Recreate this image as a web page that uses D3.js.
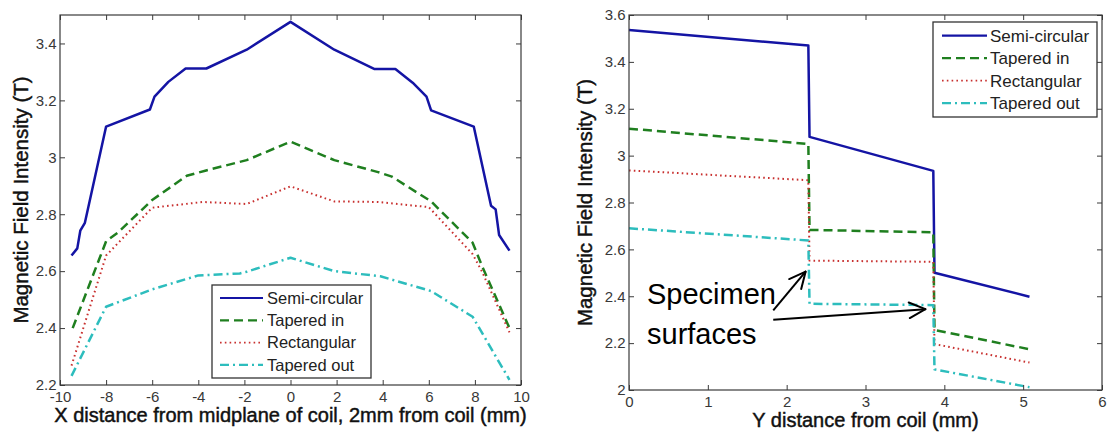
<!DOCTYPE html>
<html>
<head>
<meta charset="utf-8">
<script src="https://cdn.jsdelivr.net/npm/d3@7"></script>
<style>
  html, body { margin: 0; padding: 0; background: #fff; }
  svg { display: block; font-family: "Liberation Sans", Arial, sans-serif; }
</style>
</head>
<body>
<svg id="chart" width="1107" height="436"></svg>
<script>
// ---------------- DATA ----------------
const seriesNames = ["Semi-circular", "Tapered in", "Rectangular", "Tapered out"];

// Left chart: X distance from midplane of coil (mm) vs field (T)
const leftXTicks = [-10, -8, -6, -4, -2, 0, 2, 4, 6, 8, 10];
const leftYTicks = [2.2, 2.4, 2.6, 2.8, 3.0, 3.2, 3.4];
const leftSemiCircular = [[-9.5,2.655],[-9.25,2.68],[-9.12,2.742],[-8.92,2.77],[-8,3.108],[-6.1,3.168],[-5.9,3.213],[-5.3,3.265],[-4.55,3.312],[-3.65,3.312],[-1.9,3.378],[0,3.476],[1.9,3.378],[3.65,3.31],[4.55,3.31],[5.3,3.262],[5.9,3.213],[6.1,3.165],[7.95,3.108],[8.7,2.83],[8.9,2.817],[9.05,2.727],[9.5,2.672]];
const leftTaperedIn = [[-9.45,2.40],[-8,2.705],[-7.5,2.735],[-6,2.85],[-4.5,2.935],[-3.7,2.953],[-1.9,2.99],[0,3.055],[1.9,2.99],[3.8,2.948],[4.4,2.932],[6.1,2.845],[7.9,2.70],[8.3,2.62],[9.5,2.40]];
const leftRectangular = [[-9.5,2.268],[-8,2.655],[-6,2.823],[-3.8,2.843],[-1.9,2.836],[0,2.898],[1.9,2.845],[3.8,2.843],[6,2.825],[7.9,2.66],[8.3,2.6],[9.5,2.385]];
const leftTaperedOut = [[-9.5,2.232],[-8,2.475],[-6,2.536],[-4,2.585],[-2.2,2.592],[-1.9,2.598],[0,2.647],[1.9,2.6],[3.9,2.582],[6.1,2.53],[7.9,2.44],[9.5,2.218]];

// Right chart: Y distance from coil (mm) vs field (T)
const rightXTicks = [0, 1, 2, 3, 4, 5, 6];
const rightYTicks = [2.0, 2.2, 2.4, 2.6, 2.8, 3.0, 3.2, 3.4, 3.6];
const rightSemiCircular = [[0,3.536],[2.275,3.47],[2.29,3.08],[3.86,2.935],[3.875,2.50],[5.08,2.398]];
const rightTaperedIn = [[0,3.115],[2.275,3.05],[2.29,2.683],[3.86,2.673],[3.875,2.256],[5.08,2.174]];
const rightRectangular = [[0,2.937],[2.275,2.895],[2.29,2.552],[3.86,2.547],[3.875,2.196],[5.08,2.117]];
const rightTaperedOut = [[0,2.69],[2.275,2.638],[2.29,2.368],[3.86,2.362],[3.875,2.088],[5.08,2.012]];

const annotationLines = ["Specimen", "surfaces"];

// ---------------- STYLE ----------------
const styles = [
  { color: "#1414a4", width: 2.5, dash: null },
  { color: "#1f7f1f", width: 2.5, dash: "9,5" },
  { color: "#c8302f", width: 2,   dash: "1.6,3.2" },
  { color: "#2dbdbd", width: 2.5, dash: "9,4,2,4" }
];

const svg = d3.select("#chart");
svg.append("rect").attr("width", 1107).attr("height", 436).attr("fill", "#fff");

function drawPlot(cfg) {
  const x = d3.scaleLinear().domain(cfg.xDomain).range([cfg.left, cfg.right]);
  const y = d3.scaleLinear().domain(cfg.yDomain).range([cfg.bottom, cfg.top]);
  const g = svg.append("g");
  const fmt = d => String(+(+d).toFixed(1));

  // lines
  const line = d3.line().x(d => x(d[0])).y(d => y(d[1]));
  cfg.series.forEach((s, i) => {
    const st = styles[i];
    g.append("path").datum(s)
      .attr("d", line)
      .attr("fill", "none")
      .attr("stroke", st.color)
      .attr("stroke-width", st.width)
      .attr("stroke-linejoin", "round")
      .attr("stroke-dasharray", st.dash);
  });

  const axisColor = "#3a3a3a";
  const tickFont = 15;
  const ab = g.append("g").attr("transform", `translate(0,${cfg.bottom})`)
    .call(d3.axisBottom(x).tickValues(cfg.xTicks).tickSize(-5).tickSizeOuter(0).tickPadding(6.5).tickFormat(fmt));
  const at = g.append("g").attr("transform", `translate(0,${cfg.top})`)
    .call(d3.axisTop(x).tickValues(cfg.xTicks).tickSize(-5).tickSizeOuter(0).tickFormat(""));
  const al = g.append("g").attr("transform", `translate(${cfg.left},0)`)
    .call(d3.axisLeft(y).tickValues(cfg.yTicks).tickSize(-5).tickSizeOuter(0).tickPadding(3.5).tickFormat(fmt));
  const ar = g.append("g").attr("transform", `translate(${cfg.right},0)`)
    .call(d3.axisRight(y).tickValues(cfg.yTicks).tickSize(-5).tickSizeOuter(0).tickFormat(""));
  [ab, at, al, ar].forEach(a => {
    a.select(".domain").remove();
    a.selectAll("line").attr("stroke", axisColor).attr("stroke-width", 1);
    a.selectAll("text").attr("fill", "#383838").attr("font-size", tickFont)
      .attr("font-family", "Liberation Sans, Arial, sans-serif");
  });
  g.append("rect")
    .attr("x", cfg.left).attr("y", cfg.top)
    .attr("width", cfg.right - cfg.left).attr("height", cfg.bottom - cfg.top)
    .attr("fill", "none").attr("stroke", axisColor).attr("stroke-width", 1.2);

  // axis titles
  g.append("text")
    .attr("x", (cfg.left + cfg.right) / 2).attr("y", cfg.xTitleY)
    .attr("text-anchor", "middle").attr("font-size", 20).attr("fill", "#111")
    .attr("stroke", "#111").attr("stroke-width", 0.45)
    .text(cfg.xTitle);
  g.append("text")
    .attr("transform", `translate(${cfg.yTitleX},${(cfg.top + cfg.bottom) / 2}) rotate(-90)`)
    .attr("text-anchor", "middle").attr("font-size", 20.5).attr("fill", "#111")
    .attr("stroke", "#111").attr("stroke-width", 0.45)
    .text("Magnetic Field Intensity (T)");

  // legend
  const L = cfg.legend;
  const lg = g.append("g");
  lg.append("rect").attr("x", L.x).attr("y", L.y).attr("width", L.w).attr("height", L.h)
    .attr("fill", "#fff").attr("stroke", "#333").attr("stroke-width", 1.3);
  seriesNames.forEach((name, i) => {
    const st = styles[i];
    const cy = L.firstRow + i * L.rowStep;
    lg.append("line")
      .attr("x1", L.x + L.lineX0).attr("x2", L.x + L.lineX1)
      .attr("y1", cy).attr("y2", cy)
      .attr("stroke", st.color).attr("stroke-width", st.width - 0.3)
      .attr("stroke-dasharray", st.dash);
    lg.append("text")
      .attr("x", L.x + L.textX).attr("y", cy).attr("dy", "0.35em")
      .attr("font-size", L.font).attr("fill", "#222")
      .text(name);
  });
  return { x, y, g };
}

drawPlot({
  left: 60, right: 521, top: 15, bottom: 385,
  xDomain: [-10, 10], yDomain: [2.2, 3.5],
  xTicks: leftXTicks, yTicks: leftYTicks,
  series: [leftSemiCircular, leftTaperedIn, leftRectangular, leftTaperedOut],
  xTitle: "X distance from midplane of coil, 2mm from coil (mm)", xTitleY: 422,
  yTitleX: 28,
  legend: { x: 212, y: 285, w: 159, h: 93, firstRow: 298, rowStep: 22.3, lineX0: 8, lineX1: 51, textX: 55, font: 16.5 }
});

const right = drawPlot({
  left: 629, right: 1102, top: 15, bottom: 390,
  xDomain: [0, 6], yDomain: [2.0, 3.6],
  xTicks: rightXTicks, yTicks: rightYTicks,
  series: [rightSemiCircular, rightTaperedIn, rightRectangular, rightTaperedOut],
  xTitle: "Y distance from coil (mm)", xTitleY: 427,
  yTitleX: 592,
  legend: { x: 933, y: 22, w: 164, h: 95, firstRow: 35.7, rowStep: 22.5, lineX0: 9, lineX1: 54, textX: 57, font: 17 }
});

// annotation
const ann = svg.append("g");
annotationLines.forEach((t, i) => {
  ann.append("text").attr("x", 647).attr("y", 304 + i * 39.5)
    .attr("font-size", 29).attr("fill", "#000").text(t);
});
function arrow(x0, y0, x1, y1) {
  const X0 = right.x(x0), Y0 = right.y(y0), X1 = right.x(x1), Y1 = right.y(y1);
  const ang = Math.atan2(Y1 - Y0, X1 - X0);
  const len = 18, spread = 0.45;
  ann.append("line").attr("x1", X0).attr("y1", Y0).attr("x2", X1).attr("y2", Y1)
    .attr("stroke", "#000").attr("stroke-width", 2);
  [ang + Math.PI - spread, ang + Math.PI + spread].forEach(a => {
    ann.append("line").attr("x1", X1).attr("y1", Y1)
      .attr("x2", X1 + len * Math.cos(a)).attr("y2", Y1 + len * Math.sin(a))
      .attr("stroke", "#000").attr("stroke-width", 2).attr("stroke-linecap", "round");
  });
}
arrow(1.83, 2.34, 2.24, 2.505);
arrow(1.83, 2.30, 3.76, 2.345);
</script>
</body>
</html>
